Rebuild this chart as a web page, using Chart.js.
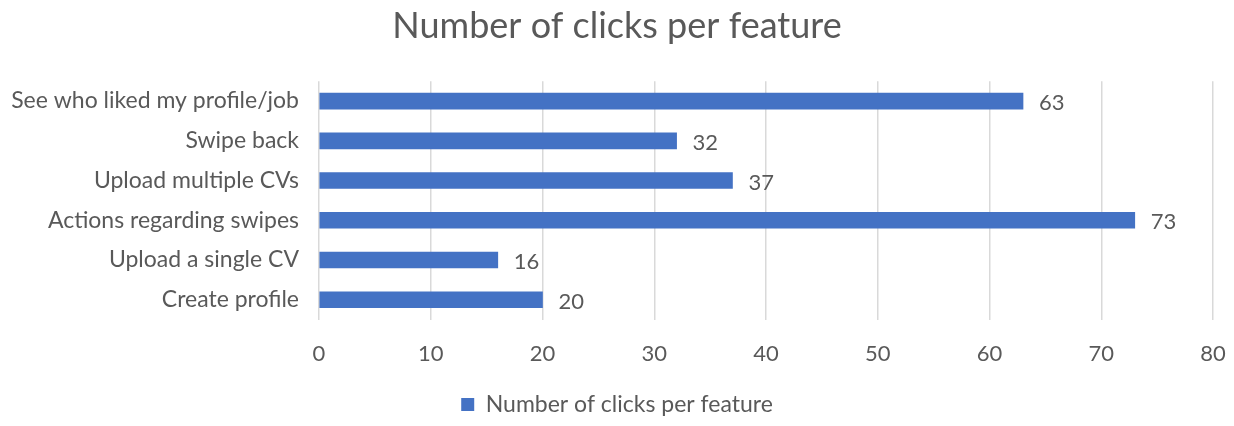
<!DOCTYPE html>
<html>
<head>
<meta charset="utf-8">
<script src="https://cdn.jsdelivr.net/npm/chart.js@4.4.0/dist/chart.umd.min.js"></script>
<style>
  html, body { margin: 0; padding: 0; background: #fff; }
  #wrap { width: 1234px; height: 426px; }
</style>
</head>
<body>
<div id="wrap"><canvas id="chart"></canvas></div>
<script>
const features = [
  'See who liked my profile/job',
  'Swipe back',
  'Upload multiple CVs',
  'Actions regarding swipes',
  'Upload a single CV',
  'Create profile'
];
const clicks = [63, 32, 37, 73, 16, 20];
const seriesName = 'Number of clicks per feature';
const axisMax = 80;
const axisStep = 10;

const textGray = '#595959';
const barBlue = '#4472C4';
const fontFamily = "Lato, 'Open Sans', sans-serif";

// value labels at the end of each bar
const barValueLabels = {
  id: 'barValueLabels',
  afterDatasetsDraw(chart) {
    const ctx = chart.ctx;
    const meta = chart.getDatasetMeta(0);
    ctx.save();
    ctx.fillStyle = textGray;
    ctx.font = '22px ' + fontFamily;
    ctx.textAlign = 'left';
    ctx.textBaseline = 'middle';
    meta.data.forEach((bar, i) => {
      ctx.fillText(String(clicks[i]), bar.x + 16, bar.y + 2);
    });
    ctx.restore();
  }
};

const ctx = document.getElementById('chart').getContext('2d');
new Chart(ctx, {
  type: 'bar',
  data: {
    labels: features,
    datasets: [{
      label: seriesName,
      data: clicks,
      backgroundColor: barBlue,
      borderWidth: 0,
      barThickness: 16
    }]
  },
  options: {
    indexAxis: 'y',
    responsive: true,
    maintainAspectRatio: false,
    animation: false,
    layout: { padding: { left: 0, right: 0, top: 5, bottom: 0 } },
    plugins: {
      title: {
        display: true,
        text: seriesName,
        color: textGray,
        font: { family: fontFamily, size: 36, weight: 'normal' },
        padding: { top: 0, bottom: 33 }
      },
      legend: {
        position: 'bottom',
        labels: {
          color: textGray,
          font: { family: fontFamily, size: 23 },
          boxWidth: 13,
          boxHeight: 13,
          padding: 5
        }
      },
      tooltip: { enabled: false }
    },
    scales: {
      x: {
        min: 0,
        max: axisMax,
        ticks: {
          stepSize: axisStep,
          color: textGray,
          font: { family: fontFamily, size: 22 },
          padding: 21
        },
        grid: { color: '#d9d9d9', lineWidth: 1.5, drawTicks: false },
        border: { display: false },
        afterFit(scale) { scale.paddingRight = 21; }
      },
      y: {
        ticks: {
          color: textGray,
          font: { family: fontFamily, size: 23 },
          padding: 12
        },
        grid: { display: false },
        border: { display: false },
        afterFit(scale) { scale.width = 319; }
      }
    }
  },
  plugins: [barValueLabels]
});
</script>
</body>
</html>
